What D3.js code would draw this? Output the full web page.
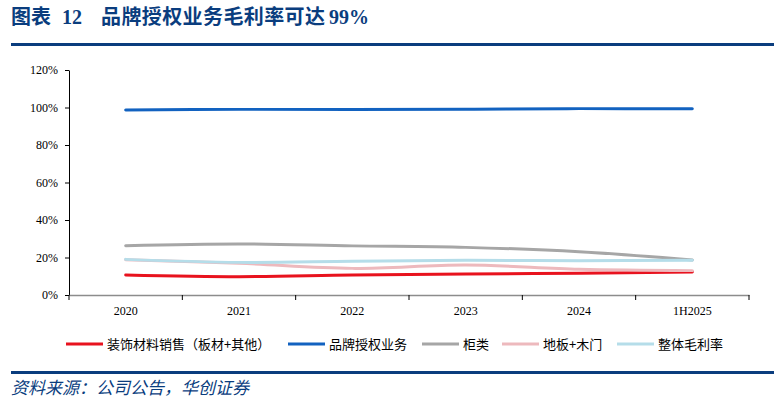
<!DOCTYPE html>
<html><head><meta charset="utf-8">
<script src="https://cdn.jsdelivr.net/npm/d3@7"></script>
<style>
html,body{margin:0;padding:0;background:#fff;}
svg{display:block;}
</style>
</head><body>
<svg id="c" width="774" height="408"></svg>
<script>
const categories = ["2020","2021","2022","2023","2024","1H2025"];
const decor = [10.7, 9.8, 10.7, 11.2, 11.6, 12.3];
const brand = [98.7, 99.0, 99.0, 99.1, 99.4, 99.3];
const cabinet = [26.3, 27.2, 26.2, 25.4, 23.1, 18.7];
const floorDoor = [18.8, 16.9, 14.2, 16.0, 13.7, 13.0];
const overall = [19.0, 17.4, 18.0, 18.5, 18.3, 18.5];
const yTicks = [0, 20, 40, 60, 80, 100, 120];
const seriesNames = ["装饰材料销售（板材+其他）","品牌授权业务","柜类","地板+木门","整体毛利率"];
const seriesColors = ["#E8121E","#1262C0","#A6A6A6","#EDB9BD","#B5DDE9"];
const seriesData = [decor, brand, cabinet, floorDoor, overall];

const svg = d3.select("#c");
const navy = "#0A3D7E";
const serif = "'Liberation Serif','Times New Roman',serif";
const cjk = "'Noto Sans CJK SC','Noto Sans',sans-serif";

// Title
const title = svg.append("text").attr("y", 24)
  .attr("fill", navy).attr("font-size", 20).attr("font-weight", "bold");
title.append("tspan").attr("x", 11).attr("font-family", cjk).text("图表");
title.append("tspan").attr("x", 62).attr("font-family", serif).text("12");
title.append("tspan").attr("x", 101).attr("font-family", cjk).attr("letter-spacing", 0.4).text("品牌授权业务毛利率可达");
title.append("tspan").attr("x", 329).attr("font-family", serif).text("99%");
svg.append("rect").attr("x", 11).attr("y", 43).attr("width", 763).attr("height", 3).attr("fill", navy);

// Scales
const x = d3.scaleBand().domain(categories).range([69, 749]);
const y = d3.scaleLinear().domain([0, 120]).range([295, 70]);

// Y axis
const yAxis = svg.append("g").attr("transform", "translate(69,0)")
  .call(d3.axisLeft(y).tickValues(yTicks).tickFormat(d => d + "%").tickSize(4).tickSizeOuter(0));
yAxis.select(".domain").attr("stroke", "#000");
yAxis.selectAll(".tick line").attr("stroke", "#000");
yAxis.selectAll("text").attr("font-family", serif).attr("font-size", 12).attr("fill", "#000").attr("x", -11);

// X axis
const xAxis = svg.append("g").attr("transform", "translate(0,295)")
  .call(d3.axisBottom(x).tickSize(0).tickSizeOuter(0));
xAxis.select(".domain").attr("stroke", "#8C8C8C").attr("stroke-width", 1.5);
xAxis.selectAll("text").attr("font-family", serif).attr("font-size", 12).attr("fill", "#000").attr("dy", 0).attr("y", 20);
// boundary ticks
const bounds = categories.map(c => x(c)).concat([x.range()[1]]);
svg.append("g").selectAll("line").data(bounds).join("line")
  .attr("x1", d => d).attr("x2", d => d).attr("y1", 295).attr("y2", 300)
  .attr("stroke", "#000").attr("stroke-width", 1);

// Lines (series order: last drawn on top)
const line = d3.line()
  .x((d, i) => x(categories[i]) + x.bandwidth() / 2)
  .y(d => y(d))
  .curve(d3.curveCatmullRom.alpha(0.5));
seriesData.forEach((data, k) => {
  svg.append("path").attr("d", line(data))
    .attr("fill", "none").attr("stroke", seriesColors[k])
    .attr("stroke-width", 3).attr("stroke-linecap", "round");
});

// Legend
const legendX = [66, 288, 422, 502, 617];
const lg = svg.append("g");
seriesNames.forEach((n, i) => {
  lg.append("line").attr("x1", legendX[i]).attr("x2", legendX[i] + 37)
    .attr("y1", 344).attr("y2", 344).attr("stroke", seriesColors[i]).attr("stroke-width", 3);
  lg.append("text").attr("x", legendX[i] + 41).attr("y", 348.5)
    .attr("font-family", cjk).attr("font-size", 13).attr("fill", "#000").text(n);
});

// Bottom rule + source
svg.append("rect").attr("x", 11).attr("y", 371).attr("width", 763).attr("height", 3).attr("fill", navy);
svg.append("text").attr("x", 11).attr("y", 394).attr("fill", navy)
  .attr("font-family", cjk).attr("font-size", 17).attr("font-style", "italic")
  .text("资料来源：公司公告，华创证券");
</script>
</body></html>
